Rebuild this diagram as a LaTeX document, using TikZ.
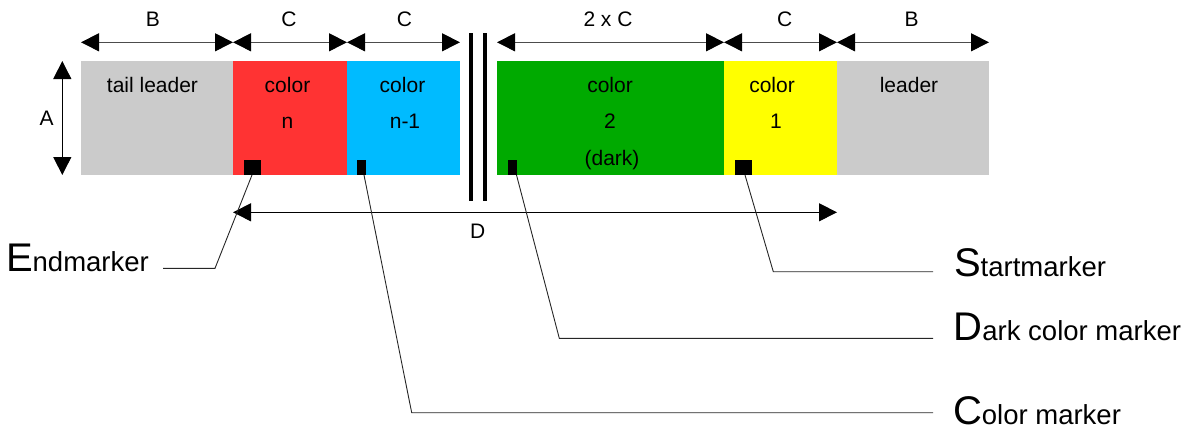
\documentclass[tikz,border=0pt]{standalone}
\usepackage{fontspec}
\setmainfont{Liberation Sans}
\usetikzlibrary{arrows.meta}
\definecolor{greyseg}{HTML}{CBCBCB}
\definecolor{redseg}{HTML}{FF3333}
\definecolor{blueseg}{HTML}{00BBFF}
\definecolor{greenseg}{HTML}{00AA00}
\definecolor{yellowseg}{HTML}{FFFF00}
\newcommand\mkbig[1]{{\fontsize{40}{40}\selectfont #1}}
\newcommand\mksmall[1]{{\fontsize{27.5}{30}\selectfont #1}}
\begin{document}
\begin{tikzpicture}[x=1pt,y=-1pt,
  seg/.style={rectangle, draw=none, inner sep=0, outer sep=0, minimum height=114pt, anchor=north west},
  mk/.style={rectangle, fill=black, inner sep=0, outer sep=0, minimum height=15pt, anchor=south west},
  lbl/.style={inner sep=0, outer sep=0, anchor=base, font=\fontsize{21}{24}\selectfont},
  dim/.style={draw=black!70, line width=0.9pt, {Triangle[length=18pt,width=18pt,color=black]}-{Triangle[length=18pt,width=18pt,color=black]}},
  lead/.style={draw=black!85, line width=0.9pt},
  brk/.style={draw=black, line width=4.5pt},
  biglbl/.style={inner sep=0, outer sep=0, anchor=base west},
]
\useasboundingbox (0,0) rectangle (1190,432);

% strip segments
\node[seg, fill=greyseg, minimum width=152pt] (tail) at (81,61) {};
\node[seg, fill=redseg, minimum width=114pt] (red) at (233,61) {};
\node[seg, fill=blueseg, minimum width=113pt] (blue) at (347,61) {};
\node[seg, fill=greenseg, minimum width=227pt] (green) at (497,61) {};
\node[seg, fill=yellowseg, minimum width=113pt] (yellow) at (724,61) {};
\node[seg, fill=greyseg, minimum width=152pt] (lead) at (837,61) {};

% texts in the strip
\node[lbl] (ttail) at (152.5,92.7) {tail leader};
\node[lbl] (tred1) at (287.5,92.7) {color};
\node[lbl] (tred2) at (287.5,128.3) {n};
\node[lbl] (tblue1) at (402.5,92.7) {color};
\node[lbl] (tblue2) at (405,128.3) {n-1};
\node[lbl] (tgreen1) at (610,92.7) {color};
\node[lbl] (tgreen2) at (610,128.3) {2};
\node[lbl] (tgreen3) at (612,165) {(dark)};
\node[lbl] (tyel1) at (772,92.7) {color};
\node[lbl] (tyel2) at (776,128.3) {1};
\node[lbl] (tlead) at (909,92.7) {leader};

% markers
\node[mk, minimum width=17pt] (mkred) at (244,175) {};
\node[mk, minimum width=9pt] (mkblue) at (357,175) {};
\node[mk, minimum width=9pt] (mkgreen) at (508,175) {};
\node[mk, minimum width=17pt] (mkyel) at (735,175) {};

% break lines
\draw[brk] (470.8,33.3) -- (470.8,200.7);
\draw[brk] (485,33.3) -- (485,200.7);

% dimension arrows on top
\draw[dim] (tail.north west |- 0,42.3) -- (tail.north east |- 0,42.3);
\draw[dim] (red.north west |- 0,42.3) -- (red.north east |- 0,42.3);
\draw[dim] (blue.north west |- 0,42.3) -- (blue.north east |- 0,42.3);
\draw[dim] (green.north west |- 0,42.3) -- (green.north east |- 0,42.3);
\draw[dim] (yellow.north west |- 0,42.3) -- (yellow.north east |- 0,42.3);
\draw[dim] (lead.north west |- 0,42.3) -- (lead.north east |- 0,42.3);
\node[lbl] (lb1) at (153,26.7) {B};
\node[lbl] (lc1) at (289,26.7) {C};
\node[lbl] (lc2) at (404.5,26.7) {C};
\node[lbl] (l2c) at (608,26.7) {2 x C};
\node[lbl] (lc3) at (784.7,26.7) {C};
\node[lbl] (lb2) at (911.7,26.7) {B};

% A arrow
\draw[dim, draw=black] (62.3,61) -- (62.3,175);
\node[lbl] (la) at (46.7,125) {A};

% D arrow
\draw[dim, draw=black] (red.south west |- 0,212.3) -- (yellow.south east |- 0,212.3);
\node[lbl] (ld) at (477.7,238.3) {D};

% marker labels
\node[biglbl] (endl) at (6,271.7) {\mkbig{E}\mksmall{ndmarker}};
\node[biglbl] (startl) at (954,276.7) {\mkbig{S}\mksmall{tartmarker}};
\node[biglbl] (darkl) at (953.5,340) {\mkbig{D}\mksmall{ark color marker}};
\node[biglbl] (colorl) at (953,424) {\mkbig{C}\mksmall{olor marker}};

% leader lines
\coordinate (e1) at (215,268.3);
\coordinate (e2) at (163,268.3);
\draw[lead] ([xshift=-0.5pt]mkred.south) -- (e1) -- (e2);
\coordinate (s1) at (773.3,271.7);
\coordinate (s2) at (933,271.7);
\draw[lead] ([xshift=1.5pt]mkyel.south) -- (s1) -- (s2);
\coordinate (d1) at (559.3,338.3);
\coordinate (d2) at (933,338.3);
\draw[lead] ([xshift=4pt]mkgreen.south) -- (d1) -- (d2);
\coordinate (c1) at (411.7,412.7);
\coordinate (c2) at (933,412.7);
\draw[lead] ([xshift=2.5pt]mkblue.south) -- (c1) -- (c2);
\end{tikzpicture}
\end{document}
